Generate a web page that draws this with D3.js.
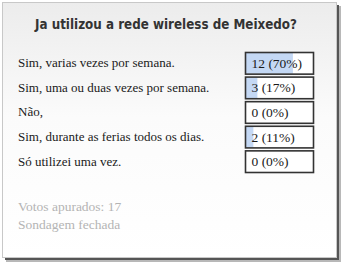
<!DOCTYPE html>
<html>
<head>
<meta charset="utf-8">
<script src="https://cdn.jsdelivr.net/npm/d3@7"></script>
<style>
  body { margin: 0; background: #fff; }
</style>
</head>
<body>
<svg id="drawing_region"></svg>
<script>
const title = "Ja utilizou a rede wireless de Meixedo?";
const options = ["Sim, varias vezes por semana.", "Sim, uma ou duas vezes por semana.", "Não,", "Sim, durante as ferias todos os dias.", "Só utilizei uma vez."];
const votes = [12, 3, 0, 2, 0];
const percents = [70, 17, 0, 11, 0];
const footer = ["Votos apurados: 17", "Sondagem fechada"];

const width = 342, height = 264;
const svg = d3.select("#drawing_region").attr("width", width).attr("height", height);

const defs = svg.append("defs");
const bg = defs.append("linearGradient").attr("id", "bg").attr("x1", 0).attr("y1", 0).attr("x2", 0).attr("y2", 1);
bg.append("stop").attr("offset", "0%").attr("stop-color", "#ececec");
bg.append("stop").attr("offset", "45%").attr("stop-color", "#fbfbfb");
bg.append("stop").attr("offset", "100%").attr("stop-color", "#ffffff");

// shadow
svg.append("rect").attr("x", 6).attr("y", 6).attr("width", 335).attr("height", 256).attr("fill", "#b8b8b8");
svg.append("rect").attr("x", 5).attr("y", 5).attr("width", 334).attr("height", 255).attr("fill", "#555");
// frame
svg.append("rect").attr("x", 2.5).attr("y", 2.5).attr("width", 334).attr("height", 255)
  .attr("fill", "url(#bg)").attr("stroke", "#c8c8c8").attr("stroke-width", 1);

svg.append("text")
  .attr("x", 166).attr("y", 29)
  .attr("text-anchor", "middle")
  .attr("font-family", "'DejaVu Sans', Verdana, sans-serif")
  .attr("font-weight", "bold")
  .attr("font-size", 13.5)
  .attr("fill", "#333")
  .attr("textLength", 262)
  .attr("lengthAdjust", "spacingAndGlyphs")
  .text(title);

const y = d3.scaleBand().domain(options).range([52, 172]).paddingInner(0.12).paddingOuter(0);
const boxX = 245.5, boxW = 68;
const x = d3.scaleLinear().domain([0, 100]).range([0, boxW - 1]);

const rows = svg.append("g").selectAll("g").data(options).join("g")
  .attr("transform", d => `translate(0, ${y(d)})`);

rows.append("text")
  .attr("x", 18).attr("y", y.bandwidth() / 2 + 4.5)
  .attr("font-family", "'Liberation Serif', 'Times New Roman', serif")
  .attr("font-size", 13)
  .attr("fill", "#1a1a1a")
  .text(d => d);

rows.append("rect")
  .attr("x", boxX).attr("y", 0.5)
  .attr("width", boxW).attr("height", y.bandwidth())
  .attr("fill", "#fff");

rows.append("rect")
  .attr("x", boxX + 0.5).attr("y", 1)
  .attr("width", (d, i) => x(percents[i]))
  .attr("height", y.bandwidth() - 1)
  .attr("fill", "#c4d8f4");

rows.append("rect")
  .attr("x", boxX).attr("y", 0.5)
  .attr("width", boxW).attr("height", y.bandwidth())
  .attr("fill", "none").attr("stroke", "#333").attr("stroke-width", 1.6);

rows.append("text")
  .attr("x", boxX + 6).attr("y", y.bandwidth() / 2 + 5)
  .attr("font-family", "'Liberation Serif', 'Times New Roman', serif")
  .attr("font-size", 13.5)
  .attr("fill", "#1a1a1a")
  .text((d, i) => `${votes[i]} (${percents[i]}%)`);

svg.append("g").selectAll("text").data(footer).join("text")
  .attr("x", 18).attr("y", (d, i) => 211 + i * 18)
  .attr("font-family", "'Liberation Serif', 'Times New Roman', serif")
  .attr("font-size", 13.5)
  .attr("fill", "#b4b4b4")
  .text(d => d);
</script>
</body>
</html>
